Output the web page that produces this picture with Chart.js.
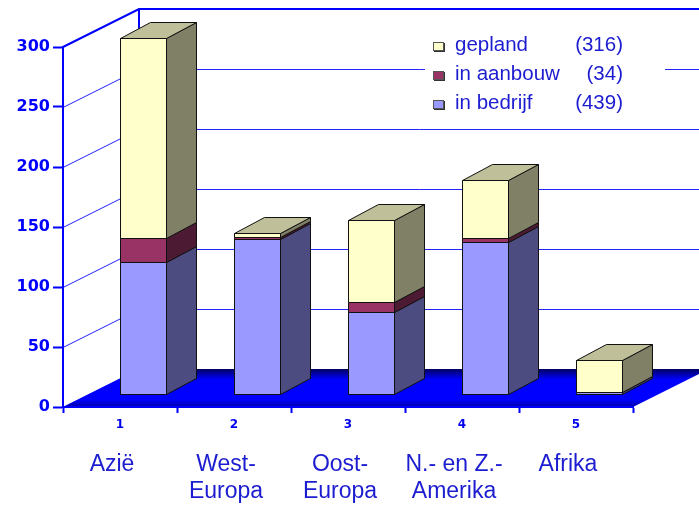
<!DOCTYPE html>
<html><head><meta charset="utf-8">
<script src="https://cdn.jsdelivr.net/npm/chart.js@4.4.1/dist/chart.umd.min.js"></script>
<style>html,body{margin:0;padding:0;background:#fff;overflow:hidden}#wrap{width:699px;height:505px;position:relative}</style>
</head><body><div id="wrap"><canvas id="c" width="699" height="505"></canvas></div>
<script>
// ---- data ----
const categories = ['1', '2', '3', '4', '5'];
const regionNames = [['Azië'], ['West-', 'Europa'], ['Oost-', 'Europa'], ['N.- en Z.-', 'Amerika'], ['Afrika']];
const seriesNames = ['in bedrijf', 'in aanbouw', 'gepland'];
const inBedrijf = [110, 129, 68, 127, 2];
const inAanbouw = [20, 2, 9, 3, 0];
const gepland = [167, 3, 68, 48, 26];
const legendTotals = ['(439)', '(34)', '(316)'];
const yTicks = [0, 50, 100, 150, 200, 250, 300];

// ---- styles ----
const faces = [
  {front: '#9999ff', side: '#4c4c80', top: '#7373bf'},
  {front: '#993366', side: '#4d1a33', top: '#73264d'},
  {front: '#ffffcc', side: '#808066', top: '#bfbf99'}
];
const DEPTH = {dx: 76, dy: -38};
const BAR = {ox: 23, oy: -13, sdx: 30, sdy: -16};
const BLUE = '#0000ff';

const scene3d = {
  id: 'scene3d',
  beforeDraw(chart) {
    const ctx = chart.ctx, ca = chart.chartArea, ys = chart.scales.y;
    const L = ca.left, R = ca.right, B = ca.bottom;
    ctx.save();
    ctx.fillStyle = '#fff';
    ctx.fillRect(0, 0, chart.width, chart.height);
    // walls / gridlines
    ys.ticks.forEach(t => {
      const py = Math.round(ys.getPixelForValue(t.value));
      const edge = t.value === ys.max;
      ctx.strokeStyle = edge ? BLUE : '#2424ff';
      ctx.lineWidth = edge ? 2 : 1;
      const off = edge ? 0 : 0.5;
      ctx.beginPath();
      ctx.moveTo(L, py + off);
      ctx.lineTo(L + DEPTH.dx, py + DEPTH.dy + off);
      ctx.lineTo(chart.width + 5, py + DEPTH.dy + off);
      ctx.stroke();
    });
    ctx.strokeStyle = BLUE; ctx.lineWidth = 2;
    ctx.beginPath();
    ctx.moveTo(L + DEPTH.dx, Math.round(ys.getPixelForValue(ys.max)) + DEPTH.dy);
    ctx.lineTo(L + DEPTH.dx, B + DEPTH.dy);
    ctx.stroke();
    // floor
    const g = ctx.createLinearGradient(0, B + DEPTH.dy, 0, B);
    g.addColorStop(0, '#000060');
    g.addColorStop(0.28, '#0000ff');
    g.addColorStop(0.8, '#0000ff');
    g.addColorStop(1, '#0000a8');
    ctx.fillStyle = g;
    ctx.beginPath();
    ctx.moveTo(L, B);
    ctx.lineTo(L + DEPTH.dx, B + DEPTH.dy);
    ctx.lineTo(R + DEPTH.dx, B + DEPTH.dy);
    ctx.lineTo(R, B);
    ctx.closePath();
    ctx.fill();
    ctx.restore();
  },
  beforeDatasetsDraw(chart) {
    const ctx = chart.ctx;
    const ds = chart.data.datasets;
    ctx.save();
    ctx.strokeStyle = '#111';
    ctx.lineWidth = 1;
    ctx.lineJoin = 'round';
    for (let j = 0; j < categories.length; j++) {
      let topIdx = -1;
      ds.forEach((d, i) => { if (d.data[j] > 0) topIdx = i; });
      ds.forEach((d, i) => {
        if (!(d.data[j] > 0)) return;
        const e = chart.getDatasetMeta(i).data[j];
        const f = faces[i];
        const x0 = Math.round(e.x - e.width / 2 + BAR.ox) + 0.5;
        const x1 = x0 + Math.round(e.width);
        const yt = Math.round(e.y + BAR.oy) + 0.5;
        const yb = Math.round(e.base + BAR.oy) + 0.5;
        ctx.fillStyle = f.front;
        ctx.beginPath(); ctx.rect(x0, yt, x1 - x0, yb - yt); ctx.fill(); ctx.stroke();
        ctx.fillStyle = f.side;
        ctx.beginPath();
        ctx.moveTo(x1, yb); ctx.lineTo(x1 + BAR.sdx, yb + BAR.sdy);
        ctx.lineTo(x1 + BAR.sdx, yt + BAR.sdy); ctx.lineTo(x1, yt);
        ctx.closePath(); ctx.fill(); ctx.stroke();
        if (i === topIdx) {
          ctx.fillStyle = f.top;
          ctx.beginPath();
          ctx.moveTo(x0, yt); ctx.lineTo(x0 + BAR.sdx, yt + BAR.sdy);
          ctx.lineTo(x1 + BAR.sdx, yt + BAR.sdy); ctx.lineTo(x1, yt);
          ctx.closePath(); ctx.fill(); ctx.stroke();
        }
      });
    }
    ctx.restore();
    return false;
  },
  afterDraw(chart) {
    const ctx = chart.ctx;
    ctx.save();
    ctx.fillStyle = '#fff';
    ctx.fillRect(425, 26, 240, 94);
    const order = [2, 1, 0];
    const baselines = [51, 80, 109];
    order.forEach((di, r) => {
      const by = baselines[r] - 9;
      ctx.fillStyle = '#333';
      ctx.fillRect(434, by + 1, 11, 9);
      ctx.fillStyle = faces[di].front;
      ctx.fillRect(433, by, 10, 8);
      ctx.strokeStyle = '#555'; ctx.lineWidth = 1;
      ctx.strokeRect(433.5, by + 0.5, 10, 8);
      ctx.fillStyle = '#1c1cd0';
      ctx.font = '20.5px "Liberation Sans", Arial, sans-serif';
      ctx.textBaseline = 'alphabetic';
      ctx.textAlign = 'left';
      ctx.fillText(seriesNames[di], 455, baselines[r]);
      ctx.textAlign = 'right';
      ctx.fillText(legendTotals[di], 623, baselines[r]);
    });
    ctx.restore();
  }
};

new Chart(document.getElementById('c'), {
  type: 'bar',
  data: {
    labels: categories,
    datasets: [
      {label: seriesNames[0], data: inBedrijf, backgroundColor: faces[0].front, xAxisID: 'x', yAxisID: 'y'},
      {label: seriesNames[1], data: inAanbouw, backgroundColor: faces[1].front, xAxisID: 'x', yAxisID: 'y'},
      {label: seriesNames[2], data: gepland, backgroundColor: faces[2].front, xAxisID: 'x', yAxisID: 'y'}
    ]
  },
  options: {
    responsive: false,
    animation: false,
    devicePixelRatio: 1,
    categoryPercentage: 1,
    barPercentage: 46 / 114,
    layout: {padding: {top: 47, right: 66, left: 0, bottom: 0}},
    plugins: {legend: {display: false}, tooltip: {enabled: false}},
    events: [],
    scales: {
      x: {
        type: 'category', position: 'bottom', stacked: true, offset: true, weight: 0,
        grid: {display: true, offset: true, drawOnChartArea: false, drawTicks: true, tickLength: 6, tickWidth: 2, tickColor: BLUE},
        border: {display: true, color: BLUE, width: 2},
        ticks: {color: '#0000ee', font: {family: '"DejaVu Sans", sans-serif', weight: 'bold', size: 12}, padding: 5, maxRotation: 0, autoSkip: false},
        afterFit: s => { s.height = 30; }
      },
      x2: {
        type: 'category', position: 'bottom', labels: regionNames, offset: true, weight: 1,
        grid: {display: false, drawTicks: false},
        border: {display: false},
        ticks: {color: '#1c1cd0', font: {family: '"Liberation Sans", Arial, sans-serif', size: 23, lineHeight: '27px'}, padding: 14, labelOffset: -8, maxRotation: 0, autoSkip: false},
        afterFit: s => { s.height = 68; }
      },
      y: {
        type: 'linear', position: 'left', stacked: true, min: 0, max: 300,
        afterBuildTicks: s => { s.ticks = yTicks.map(v => ({value: v})); },
        grid: {display: true, drawOnChartArea: false, drawTicks: true, tickLength: 10, tickWidth: 2, tickColor: BLUE},
        border: {display: true, color: BLUE, width: 2},
        ticks: {color: BLUE, font: {family: '"DejaVu Sans", sans-serif', weight: 'bold', size: 16}, padding: 3},
        afterFit: s => { s.width = 63; }
      }
    }
  },
  plugins: [scene3d]
});
</script>
</body></html>
